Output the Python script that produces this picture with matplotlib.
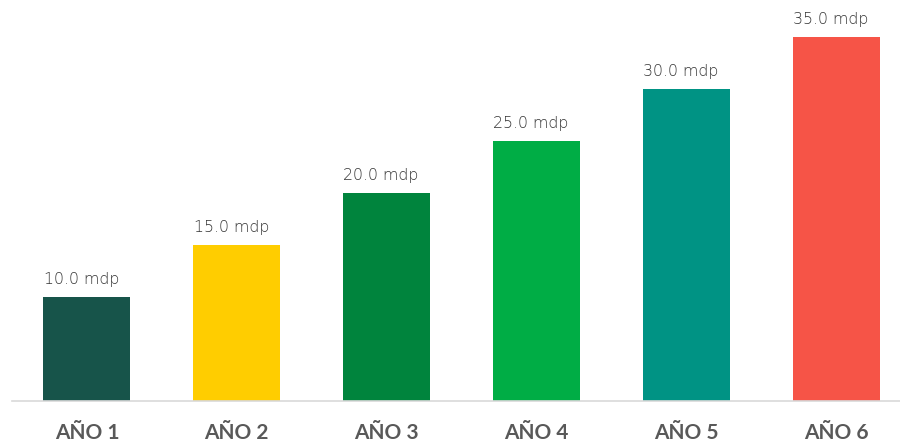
import matplotlib
matplotlib.use('Agg')
import matplotlib.pyplot as plt

# Data
years = ["AÑO 1", "AÑO 2", "AÑO 3", "AÑO 4", "AÑO 5", "AÑO 6"]
values = [10.0, 15.0, 20.0, 25.0, 30.0, 35.0]
colors = ["#17544A", "#FFCD00", "#00843D", "#00AD45", "#009384", "#F65447"]

fig = plt.figure(figsize=(9, 4.46), dpi=100)
ax = fig.add_axes([12 / 900, 45 / 446, 899 / 900, 395.2 / 446])

x = range(len(years))
bars = ax.bar(x, values, width=0.58, color=colors)

for xi, v in zip(x, values):
    ax.annotate(f"{v:.1f} mdp", (xi, v), xytext=(-4, 7), textcoords="offset points",
                ha="center", va="bottom", fontsize=11.3, color="#333333",
                family="DejaVu Sans", fontweight="light")

ax.set_xlim(-0.5, 5.5)
ax.set_ylim(0, 38)
ax.set_xticks(list(x))
ax.set_xticklabels(years, fontsize=15, fontweight="bold", color="#595959",
                   family="Lato")
ax.tick_params(axis="x", length=0, pad=16)
ax.set_yticks([])
for side in ["top", "left", "right"]:
    ax.spines[side].set_visible(False)
ax.spines["bottom"].set_color("#D9D9D9")
ax.spines["bottom"].set_linewidth(1.2)

fig.savefig("out.png", dpi=100)
